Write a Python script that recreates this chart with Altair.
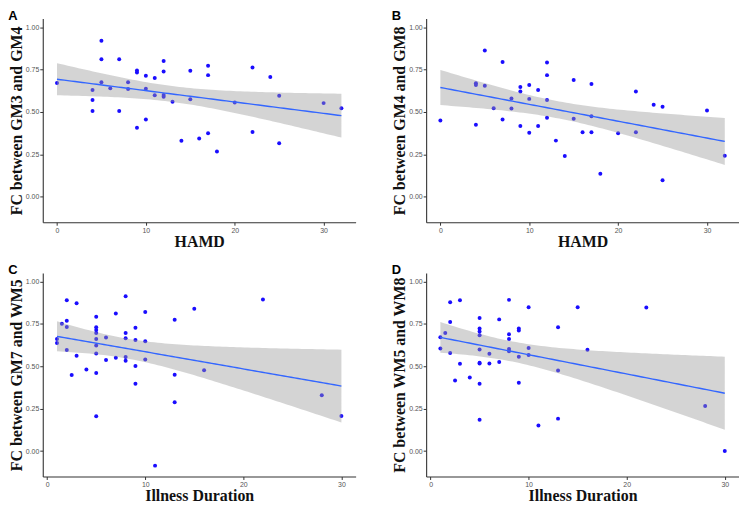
import altair as alt
import numpy as np
import pandas as pd

# ---------- data ----------
a_x = [0, 5, 5, 5, 4, 4, 4, 6, 7, 7, 8, 8, 9, 9, 9, 10, 10, 10, 11, 11, 12, 12, 12, 12,
       13, 14, 15, 15, 16, 17, 17, 17, 18, 20, 22, 22, 24, 25, 25, 30, 32]
a_y = [0.67, 0.92, 0.81, 0.675, 0.63, 0.57, 0.505, 0.64, 0.81, 0.505, 0.675, 0.635, 0.745,
       0.733, 0.407, 0.713, 0.637, 0.456, 0.70, 0.598, 0.80, 0.739, 0.60, 0.589, 0.56, 0.33,
       0.743, 0.575, 0.343, 0.772, 0.717, 0.374, 0.267, 0.556, 0.762, 0.382, 0.706, 0.596,
       0.316, 0.552, 0.522]

b_x = [0, 4, 4, 4, 5, 5, 6, 7, 7, 8, 8, 9, 9, 9, 10, 10, 10, 11, 11, 12, 12, 12, 12, 13,
       14, 15, 15, 16, 17, 17, 17, 18, 20, 22, 22, 24, 25, 25, 30, 32]
b_y = [0.45, 0.669, 0.659, 0.425, 0.862, 0.655, 0.522, 0.795, 0.456, 0.579, 0.52, 0.647,
       0.62, 0.417, 0.659, 0.577, 0.378, 0.63, 0.417, 0.791, 0.717, 0.571, 0.466, 0.331,
       0.24, 0.688, 0.46, 0.38, 0.665, 0.474, 0.38, 0.136, 0.374, 0.62, 0.38, 0.542, 0.53,
       0.097, 0.509, 0.242]

c_x = [1, 1, 1.5, 2, 2, 2, 2, 2.5, 3, 3, 4, 5, 5, 5, 5, 5, 5, 5, 5, 5, 6, 6, 7, 7, 8, 8,
       8, 8, 8, 9, 9, 9, 9, 10, 10, 10, 11, 13, 13, 13, 15, 16, 22, 28, 30]
c_y = [0.661, 0.637, 0.75, 0.889, 0.768, 0.731, 0.595, 0.448, 0.871, 0.561, 0.481, 0.791,
       0.729, 0.713, 0.696, 0.661, 0.622, 0.575, 0.46, 0.205, 0.669, 0.536, 0.811, 0.55,
       0.912, 0.696, 0.665, 0.554, 0.532, 0.727, 0.655, 0.501, 0.396, 0.819, 0.647, 0.54,
       -0.086, 0.774, 0.45, 0.288, 0.838, 0.476, 0.893, 0.329, 0.207]

d_x = [1, 1, 1.5, 2, 2, 2, 2.5, 3, 3, 4, 5, 5, 5, 5, 5, 5, 5, 5, 5, 6, 6, 7, 7, 8, 8, 8,
       8, 8, 9, 9, 9, 9, 10, 10, 10, 11, 13, 13, 13, 15, 16, 22, 28, 30]
d_y = [0.671, 0.605, 0.696, 0.877, 0.761, 0.578, 0.416, 0.889, 0.514, 0.434, 0.784, 0.722,
       0.704, 0.683, 0.599, 0.521, 0.516, 0.397, 0.185, 0.574, 0.516, 0.776, 0.525, 0.891,
       0.689, 0.661, 0.601, 0.588, 0.722, 0.71, 0.556, 0.403, 0.848, 0.607, 0.566, 0.15,
       0.73, 0.475, 0.191, 0.848, 0.597, 0.846, 0.265, 0.0]

panels = [
    ("A", "HAMD", "FC between GM3 and GM4", a_x, a_y, [-1.6, 33.6], [0, 10, 20, 30]),
    ("B", "HAMD", "FC between GM4 and GM8", b_x, b_y, [-1.6, 33.6], [0, 10, 20, 30]),
    ("C", "Illness Duration", "FC between GM7 and WM5", c_x, c_y, [-0.45, 31.45], [0, 10, 20, 30]),
    ("D", "Illness Duration", "FC between WM5 and WM8", d_x, d_y, [-0.45, 31.45], [0, 10, 20, 30]),
]
y_ticks = [0.0, 0.25, 0.5, 0.75, 1.0]

POINT = "#1a0dff"
LINE = "#3366FF"
BAND = "#999999"
SERIF = "Liberation Serif"


def t_quantile(df):
    z = 1.959964
    return z + (z**3 + z) / (4 * df) + (5 * z**5 + 16 * z**3 + 3 * z) / (96 * df**2)


def fit_band(xs, ys):
    x = np.asarray(xs, float)
    y = np.asarray(ys, float)
    n = len(x)
    xb = x.mean()
    sxx = ((x - xb) ** 2).sum()
    slope = ((x - xb) * (y - y.mean())).sum() / sxx
    icpt = y.mean() - slope * xb
    resid = y - (icpt + slope * x)
    s = np.sqrt((resid ** 2).sum() / (n - 2))
    t = t_quantile(n - 2)
    grid = np.linspace(x.min(), x.max(), 80)
    fit = icpt + slope * grid
    se = s * np.sqrt(1.0 / n + (grid - xb) ** 2 / sxx)
    return pd.DataFrame({"x": grid, "fit": fit, "lo": fit - t * se, "hi": fit + t * se})


def panel(letter, xtitle, ytitle, xs, ys, xdom, xticks):
    pts = pd.DataFrame({"x": xs, "y": ys})
    band = fit_band(xs, ys)
    xs_ = alt.Scale(domain=xdom, nice=False, zero=False)
    ys_ = alt.Scale(domain=[-0.15, 1.05], nice=False, zero=False)
    xaxis = alt.Axis(title=xtitle, values=xticks, format="d", grid=False)
    yaxis = alt.Axis(title=ytitle, values=y_ticks, format=".2f", grid=False)
    p = alt.Chart(pts).mark_circle(size=16, opacity=1, color=POINT).encode(
        x=alt.X("x:Q", scale=xs_, axis=xaxis),
        y=alt.Y("y:Q", scale=ys_, axis=yaxis),
    )
    b = alt.Chart(band).mark_area(color=BAND, opacity=0.42).encode(
        x=alt.X("x:Q", scale=xs_), y=alt.Y("lo:Q", scale=ys_), y2="hi:Q"
    )
    ln = alt.Chart(band).mark_line(color=LINE, strokeWidth=1.4).encode(
        x=alt.X("x:Q", scale=xs_), y=alt.Y("fit:Q", scale=ys_)
    )
    return alt.layer(p, b, ln).properties(
        width=315, height=205,
        title=alt.TitleParams(letter, anchor="start", frame="bounds", fontSize=13,
                              font="Liberation Sans", fontWeight="bold", offset=-4),
    )


charts = [panel(*p) for p in panels]
row1 = alt.hconcat(charts[0], charts[1], spacing=36)
row2 = alt.hconcat(charts[2], charts[3], spacing=36)
chart = alt.vconcat(row1, row2, spacing=15).properties(padding=0).configure_view(
    stroke=None
).configure_axis(
    domainColor="#333333", domainWidth=1.1, tickColor="#333333", tickSize=3,
    labelColor="#555555", labelFontSize=7, labelFont="Liberation Sans", labelPadding=1,
    titleFont=SERIF, titleFontSize=16, titleFontWeight="bold", titleColor="#111111",
).configure_axisX(titlePadding=0).configure_axisY(titlePadding=1)

chart.save("out.html", embed_options={"renderer": "svg", "actions": False})
